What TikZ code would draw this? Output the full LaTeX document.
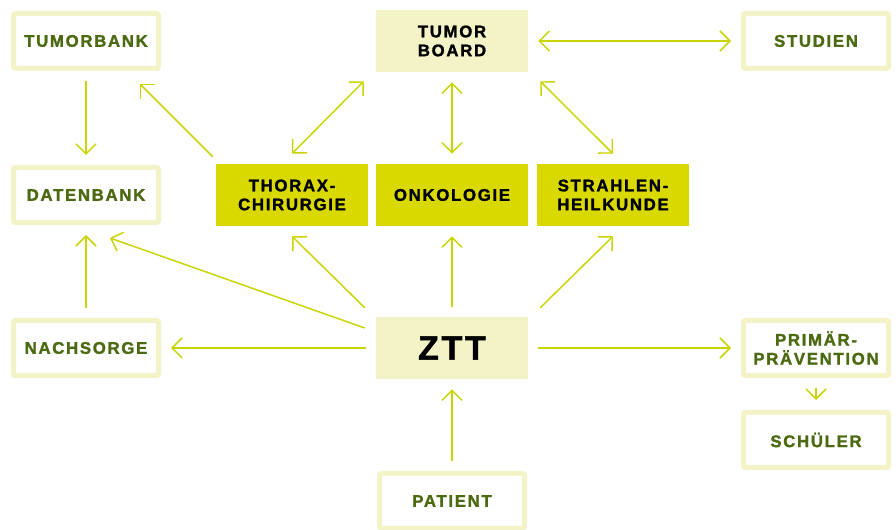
\documentclass[tikz,border=0pt]{standalone}
\usepackage{fontspec}
\setmainfont{Liberation Sans}
\newfontfamily\boxfont[LetterSpace=10,FakeBold=1.5]{Liberation Sans}
\newfontfamily\bigfont[LetterSpace=8,FakeBold=1.5]{Liberation Sans}
\usepackage{xcolor}
\usepackage{tikz}
\usetikzlibrary{arrows.meta}

\definecolor{paleyellow}{HTML}{F3F3C7}
\definecolor{brightyellow}{HTML}{D9D900}
\definecolor{textgreen}{HTML}{4C6A12}
\definecolor{arrowyellow}{HTML}{C9D400}

\begin{document}
\begin{tikzpicture}[
  x=0.75pt, y=-0.75pt,
  %% style definitions
  lbl/.style     = {font=\boxfont\fontsize{12.6}{14.2}\selectfont\bfseries,
                    align=center, inner sep=0pt},
  outbox/.style  = {lbl, draw=paleyellow, line width=3.75pt, rounded corners=1.5pt,
                    fill=white, text=textgreen,
                    minimum width=108.75pt, minimum height=41.25pt},
  paleBox/.style = {lbl, fill=paleyellow, text=black,
                    minimum width=114pt, minimum height=46.5pt},
  yelBox/.style  = {lbl, fill=brightyellow, text=black,
                    minimum width=114pt, minimum height=46.5pt},
  conn/.style    = {draw=arrowyellow, line width=1.1pt,
                    -{Straight Barb[length=7.5pt,width=15pt]}},
  arr/.style     = {conn, shorten >=7.5pt, shorten <=7.5pt},
  darr/.style    = {arr, {Straight Barb[length=7.5pt,width=15pt]}-{Straight Barb[length=7.5pt,width=15pt]}},
  dconn/.style   = {conn, {Straight Barb[length=7.5pt,width=15pt]}-{Straight Barb[length=7.5pt,width=15pt]}},
]
\useasboundingbox (0,0) rectangle (896,530);

%% ── Top row ──────────────────────────────────────────────────────────────────
\node[outbox]  (tumorbank) at (86,41)  {TUMORBANK};
\node[paleBox] (board)     at (452,41) {TUMOR\\BOARD};
\node[outbox]  (studien)   at (816,41) {STUDIEN};

%% ── Middle row ───────────────────────────────────────────────────────────────
\node[outbox]  (datenbank) at (86,195)  {DATENBANK};
\node[yelBox]  (thorax)    at (292,195) {THORAX-\\CHIRURGIE};
\node[yelBox]  (onko)      at (452,195) {ONKOLOGIE};
\node[yelBox]  (strahlen)  at (613,195) {STRAHLEN-\\HEILKUNDE};

%% ── Lower rows ───────────────────────────────────────────────────────────────
\node[outbox]  (nachsorge) at (86,348)  {NACHSORGE};
\node[paleBox, font=\bigfont\fontsize{25.5}{28}\selectfont\bfseries]
               (ztt)       at (452,348) {ZTT};
\node[outbox]  (praev)     at (816,348) {PRIMÄR-\\PRÄVENTION};
\node[outbox]  (schueler)  at (816,440) {SCHÜLER};
\node[outbox]  (patient)   at (452,501) {PATIENT};

%% ── Arrows ───────────────────────────────────────────────────────────────────
\draw[arr]  (tumorbank) -- (datenbank);
\draw[dconn] ([shift={(0,-10)}]thorax.north) -- ([shift={(-12,9)}]board.south west);
\draw[darr] (board) -- (onko);
\draw[dconn] ([shift={(12,9)}]board.south east) -- ([shift={(0,-10)}]strahlen.north);
\draw[darr] (board) -- (studien);
\draw[conn] ([shift={(-3,-7)}]thorax.north west) -- ([shift={(-21,13)}]tumorbank.south east);

\draw[conn] ([shift={(-11,-9)}]ztt.north west) -- ([shift={(0,10)}]thorax.south);
\draw[arr]  (ztt) -- (onko);
\draw[conn] ([shift={(12,-9)}]ztt.north east) -- ([shift={(0,10)}]strahlen.south);
\draw[conn] ([shift={(-11,-20)}]ztt.west) -- ([shift={(-51,13)}]datenbank.south east);
\draw[arr]  (nachsorge) -- (datenbank);
\draw[arr]  (ztt) -- (nachsorge);
\draw[arr]  (ztt) -- (praev);
\draw[arr]  (praev) -- (schueler);
\draw[arr]  (patient) -- (ztt);

\end{tikzpicture}
\end{document}
